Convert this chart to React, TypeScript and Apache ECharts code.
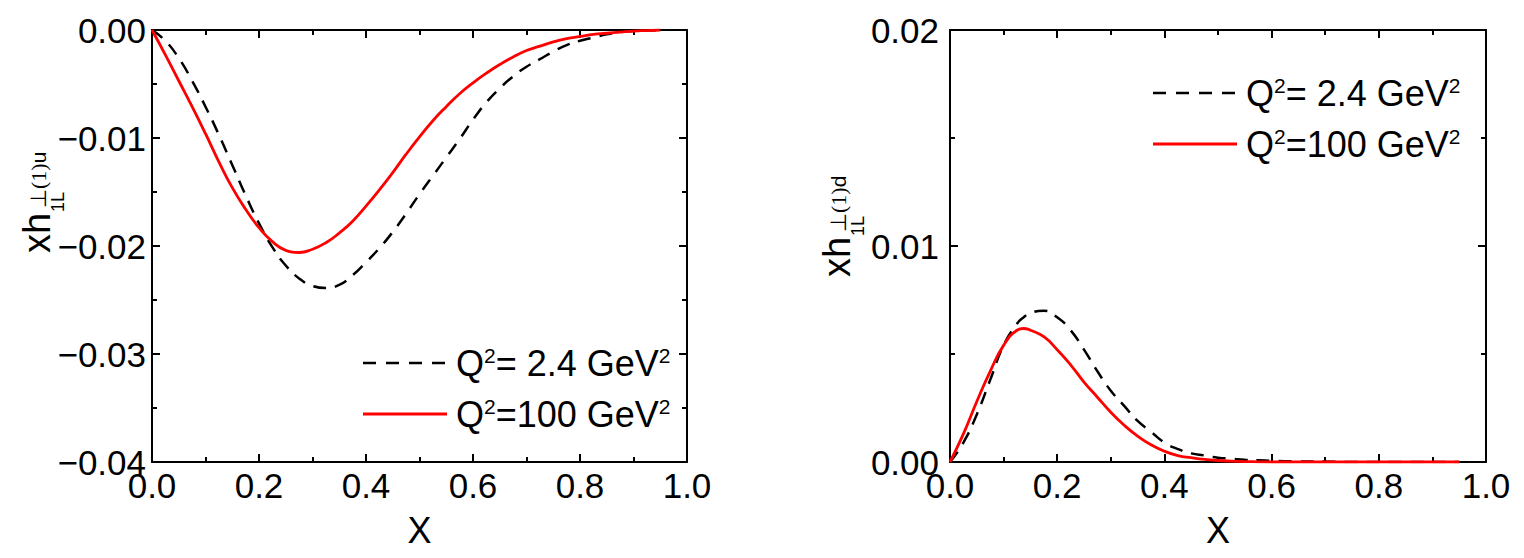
import React, { useEffect, useRef } from "react";
import * as echarts from "echarts";

// ---- data ----
const X_LEFT = [0, 0.025, 0.05, 0.075, 0.1, 0.125, 0.15, 0.175, 0.2, 0.225, 0.25, 0.275, 0.3, 0.325, 0.35, 0.375, 0.4, 0.425, 0.45, 0.475, 0.5, 0.525, 0.55, 0.575, 0.6, 0.625, 0.65, 0.675, 0.7, 0.725, 0.75, 0.775, 0.8, 0.825, 0.85, 0.875, 0.9, 0.925, 0.95];
const U_Q2_24 = [0, -0.001, -0.0026, -0.0047, -0.0071, -0.0097, -0.0125, -0.0153, -0.0179, -0.0201, -0.0218, -0.023, -0.0237, -0.0239, -0.0236, -0.0227, -0.0215, -0.0202, -0.0187, -0.017, -0.0152, -0.0135, -0.0118, -0.0101, -0.0083, -0.0067, -0.0054, -0.0043, -0.0034, -0.0027, -0.002, -0.0014, -0.001, -0.0007, -0.0004, -0.0002, -0.0001, -0.00005, 0];
const U_Q2_100 = [0, -0.0023, -0.0047, -0.0071, -0.0096, -0.0122, -0.0146, -0.0166, -0.0183, -0.0196, -0.0204, -0.0206, -0.0203, -0.0197, -0.0188, -0.0177, -0.0163, -0.0148, -0.0132, -0.0115, -0.0099, -0.0084, -0.0071, -0.0059, -0.0049, -0.004, -0.0032, -0.0025, -0.0019, -0.0015, -0.0011, -0.0008, -0.0006, -0.0004, -0.0003, -0.0002, -0.0001, -0.00005, 0];

const X_RIGHT = [0, 0.025, 0.05, 0.075, 0.1, 0.125, 0.1375, 0.15, 0.175, 0.2, 0.225, 0.25, 0.275, 0.3, 0.325, 0.35, 0.375, 0.4, 0.425, 0.45, 0.475, 0.5, 0.525, 0.55, 0.575, 0.6, 0.625, 0.65, 0.675, 0.7, 0.725, 0.75, 0.775, 0.8, 0.825, 0.85, 0.875, 0.9, 0.925, 0.95];
const D_Q2_24 = [0, 0.0009, 0.0022, 0.0038, 0.0054, 0.0064, 0.0067, 0.0069, 0.007, 0.0067, 0.0061, 0.0052, 0.0042, 0.0033, 0.0026, 0.0019, 0.0014, 0.0009, 0.0006, 0.0004, 0.0003, 0.0002, 0.00015, 0.0001, 0.00008, 0.00006, 0.00004, 0.00003, 0.00002, 0.00002, 0.00001, 0, 0, 0, 0, 0, 0, 0, 0, 0];
const D_Q2_100 = [0, 0.0013, 0.0028, 0.0042, 0.0054, 0.0061, 0.00618, 0.0061, 0.0058, 0.0052, 0.0045, 0.0037, 0.003, 0.0023, 0.0017, 0.0012, 0.0008, 0.0005, 0.0003, 0.0002, 0.00012, 0.00007, 0.00004, 0.00002, 0.00001, 0, 0, 0, 0, 0, 0, 0, 0, 0, 0, 0, 0, 0, 0, 0];

const X_TICKS = { min: 0, max: 1, interval: 0.2 };
const Y_LEFT_TICKS = { min: -0.04, max: 0, interval: 0.01 };
const Y_RIGHT_TICKS = { min: 0, max: 0.02, interval: 0.01 };

const LEGEND_LABELS = ["Q{s|2}= 2.4 GeV{s|2}", "Q{s|2}=100 GeV{s|2}"];
const X_TITLE = "X";
const Y_TITLES = ["u", "d"];

const SANS = '"Liberation Sans", Arial, Helvetica, sans-serif';
const SERIF = '"Liberation Serif", "Times New Roman", serif';

const pairs = (xs: number[], ys: number[]) => xs.map((x, i) => [x, ys[i]]);

const lineStyle = { color: "#000", width: 2 };

function xAxis(gridIndex: number, position: "bottom" | "top", labels: boolean) {
  return {
    type: "value",
    gridIndex,
    position,
    ...X_TICKS,
    name: labels ? X_TITLE : "",
    nameLocation: "middle",
    nameGap: 50,
    nameTextStyle: { fontFamily: SANS, fontSize: 36, color: "#000" },
    axisLine: { show: true, onZero: false, lineStyle },
    axisTick: { show: true, inside: true, length: 8, lineStyle },
    minorTick: { show: true, splitNumber: 2, length: 5, lineStyle },
    splitLine: { show: false },
    minorSplitLine: { show: false },
    axisLabel: {
      show: labels,
      margin: 6,
      fontFamily: SANS,
      fontSize: 35,
      color: "#000",
      showMinLabel: true,
      showMaxLabel: true,
      formatter: (v: number) => v.toFixed(1),
    },
  };
}

function yAxis(gridIndex: number, position: "left" | "right", labels: boolean, ticks: any, margin: number) {
  return {
    type: "value",
    gridIndex,
    position,
    ...ticks,
    axisLine: { show: true, onZero: false, lineStyle },
    axisTick: { show: true, inside: true, length: 8, lineStyle },
    minorTick: { show: true, splitNumber: 2, length: 5, lineStyle },
    splitLine: { show: false },
    minorSplitLine: { show: false },
    axisLabel: {
      show: labels,
      margin,
      fontFamily: SANS,
      fontSize: 35,
      color: "#000",
      showMinLabel: true,
      showMaxLabel: true,
      formatter: (v: number) => {
        const r = Math.round(v * 100) / 100;
        return (r < 0 ? "\u2212" : "") + Math.abs(r).toFixed(2);
      },
    },
  };
}

function legend(x: number, y: number) {
  const rich = { s: { fontSize: 21, fontFamily: SANS, verticalAlign: "top", fill: "#000" } };
  return [
    { type: "line", shape: { x1: x, y1: y, x2: x + 84, y2: y }, style: { stroke: "#000", lineWidth: 2.5, lineDash: [13, 10] } },
    { type: "text", x: x + 93, y, style: { text: LEGEND_LABELS[0], fontSize: 36, fontFamily: SANS, fill: "#000", verticalAlign: "middle", align: "left", rich } },
    { type: "line", shape: { x1: x, y1: y + 51, x2: x + 84, y2: y + 51 }, style: { stroke: "#ff0000", lineWidth: 2.8 } },
    { type: "text", x: x + 93, y: y + 51, style: { text: LEGEND_LABELS[1], fontSize: 36, fontFamily: SANS, fill: "#000", verticalAlign: "middle", align: "left", rich } },
  ];
}

function yTitle(x: number, y: number, flavour: string) {
  return {
    type: "group",
    x,
    y,
    rotation: Math.PI / 2,
    children: [
      { type: "text", x: 0, y: -13, style: { text: "xh", fontSize: 38, fontFamily: SANS, fill: "#000", verticalAlign: "middle", align: "left" } },
      { type: "text", x: 41, y: 8, style: { text: "1L", fontSize: 18, fontFamily: SANS, fill: "#000", verticalAlign: "middle", align: "left" } },
      {
        type: "text",
        x: 45,
        y: -12,
        style: {
          text: "{a|\u22a5(1)}{b|" + flavour + "}",
          fill: "#000",
          verticalAlign: "middle",
          align: "left",
          rich: {
            a: { fontSize: 22, fontFamily: SERIF, fill: "#000" },
            b: { fontSize: 21, fontFamily: SANS, fill: "#000" },
          },
        },
      },
    ],
  };
}

export default function App() {
  const ref = useRef<HTMLDivElement>(null);

  useEffect(() => {
    if (!ref.current) return;
    const chart = echarts.init(ref.current, undefined, { renderer: "svg" });
    const dashed = { color: "#000", width: 2.5, type: [13, 9] };
    const solid = { color: "#ff0000", width: 2.8 };
    chart.setOption({
      animation: false,
      backgroundColor: "#fff",
      grid: [
        { left: 152, top: 30, width: 535, height: 432, containLabel: false },
        { left: 950, top: 30, width: 536, height: 432, containLabel: false },
      ],
      xAxis: [xAxis(0, "bottom", true), xAxis(0, "top", false), xAxis(1, "bottom", true), xAxis(1, "top", false)],
      yAxis: [
        yAxis(0, "left", true, Y_LEFT_TICKS, 6),
        yAxis(0, "right", false, Y_LEFT_TICKS, 6),
        yAxis(1, "left", true, Y_RIGHT_TICKS, 11),
        yAxis(1, "right", false, Y_RIGHT_TICKS, 6),
      ],
      series: [
        { type: "line", name: "Q2=2.4 u", xAxisIndex: 0, yAxisIndex: 0, data: pairs(X_LEFT, U_Q2_24), smooth: 0.5, symbol: "none", lineStyle: dashed, z: 2 },
        { type: "line", name: "Q2=100 u", xAxisIndex: 0, yAxisIndex: 0, data: pairs(X_LEFT, U_Q2_100), smooth: 0.5, symbol: "none", lineStyle: solid, z: 3 },
        { type: "line", name: "Q2=2.4 d", xAxisIndex: 2, yAxisIndex: 2, data: pairs(X_RIGHT, D_Q2_24), smooth: 0.5, symbol: "none", lineStyle: dashed, z: 2 },
        { type: "line", name: "Q2=100 d", xAxisIndex: 2, yAxisIndex: 2, data: pairs(X_RIGHT, D_Q2_100), smooth: 0.5, symbol: "none", lineStyle: solid, z: 3 },
      ],
      graphic: [
        ...legend(363, 363),
        ...legend(1153, 93),
        yTitle(50, 253, Y_TITLES[0]),
        yTitle(850, 277, Y_TITLES[1]),
      ],
    });
    return () => chart.dispose();
  }, []);

  return <div ref={ref} style={{ position: "absolute", left: 0, top: 0, width: 1524, height: 558 }} />;
}
